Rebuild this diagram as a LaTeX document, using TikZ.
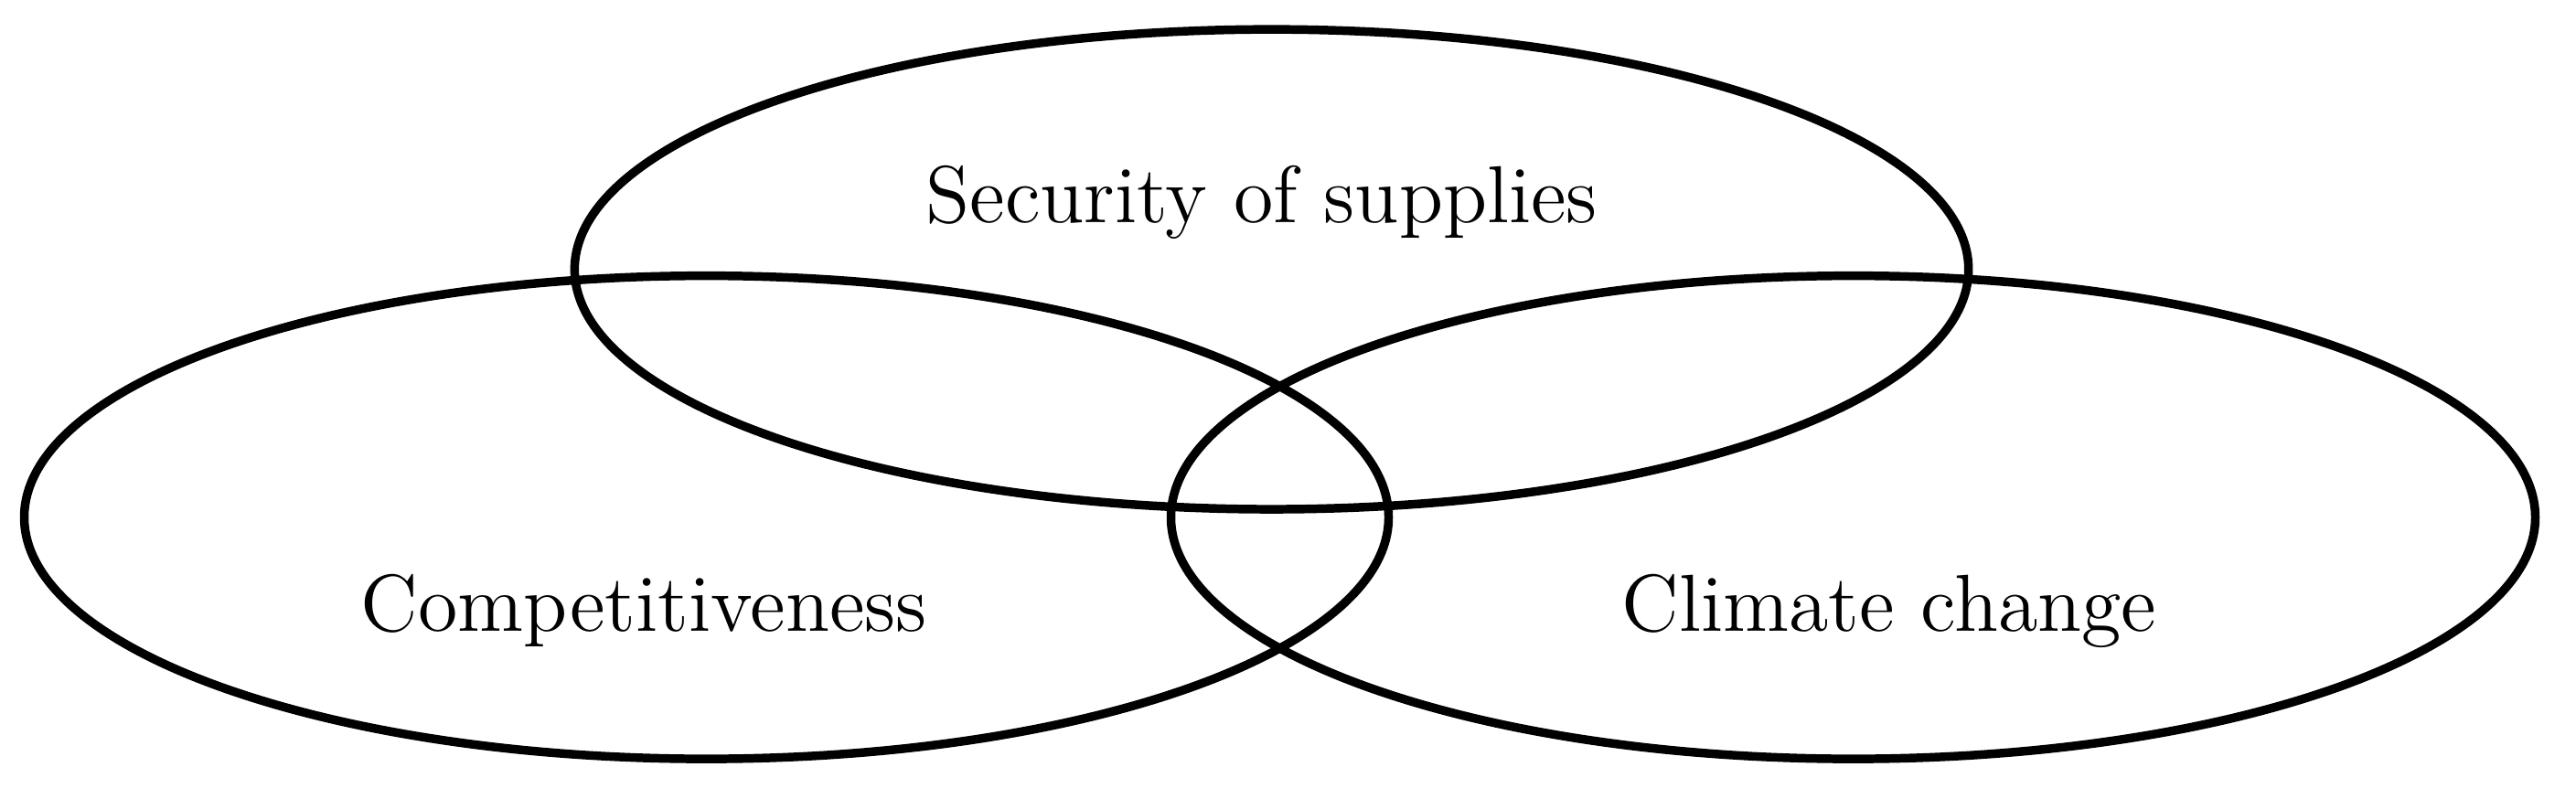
\documentclass[tikz,border=0pt]{standalone}
\usetikzlibrary{shapes.geometric}
\tikzstyle{ring} = [draw, ellipse, line width=1.5pt, inner sep=0pt]
\tikzstyle{goal} = [font=\fontsize{14}{17}\selectfont, text centered]

\begin{document}
\begin{tikzpicture}[x=0.01cm, y=0.01cm]
\useasboundingbox (0,0) rectangle (1568,486);
\node[ring, minimum width=8.48cm, minimum height=2.92cm] (security) at (774,322) {};
\node[ring, minimum width=8.30cm, minimum height=2.94cm] (compet) at (430,171) {};
\node[ring, minimum width=8.30cm, minimum height=2.94cm] (climate) at (1128,171) {};
\node[goal] (securitytext) at (768,363) {Security of supplies};
\node[goal] (compettext) at (392,114) {Competitiveness};
\node[goal] (climatetext) at (1150,114) {Climate change};
\end{tikzpicture}
\end{document}
